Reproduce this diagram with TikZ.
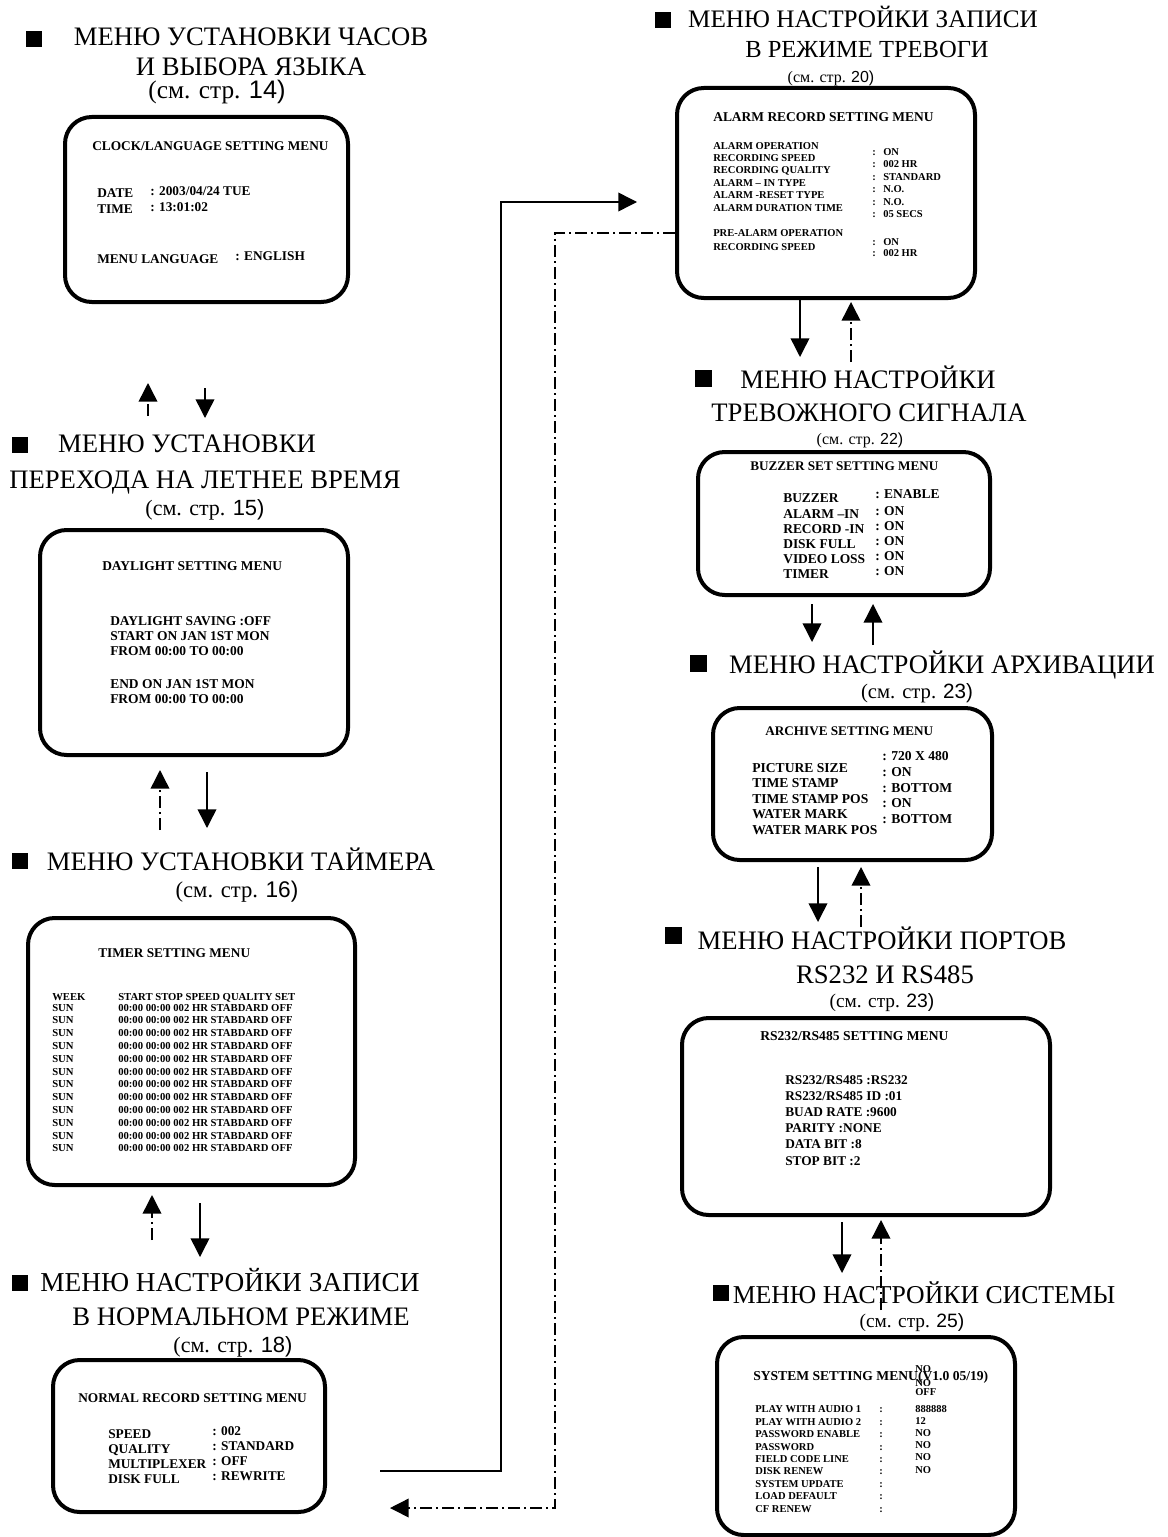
\documentclass[tikz,border=0pt]{standalone}
\usepackage{fontspec}
\setmainfont{Liberation Serif}
\setsansfont{Liberation Sans}
\usetikzlibrary{arrows.meta,fit}
\newcommand\bfs[1]{\fontsize{#1}{#1}\selectfont\bfseries}
\newcommand\rms[1]{\fontsize{#1}{#1}\selectfont}
\newcommand\pgref[2]{\fontsize{#1}{#1}\selectfont(см. стр. {\sffamily #2)}}
\begin{document}
\begin{tikzpicture}[x=0.75pt,y=-0.75pt,
  scr/.style={draw,line width=3pt,rounded corners=20pt,inner sep=0pt},
  tl/.style={anchor=base west,inner sep=0pt},
  ttl/.style={anchor=base,inner sep=0pt,font=\fontsize{20}{22}\selectfont},
  pg/.style={anchor=base,inner sep=0pt},
  arr/.style={line width=1.1pt,-{Triangle[length=14pt,width=14pt]}},
  dd/.style={arr,dash pattern=on 9pt off 3pt on 1.5pt off 3pt},
]
\useasboundingbox (0,0) rectangle (1167,1537);

% ---------- boxes ----------
\node[scr,fit={(65,117)(348,302)}] (b1) {};
\node[scr,fit={(40,530)(348,755)}] (b2) {};
\node[scr,fit={(28,918)(355,1185)}] (b3) {};
\node[scr,fit={(53,1360)(325,1512)}] (b4) {};
\node[scr,fit={(677,88)(975,298)}] (b5) {};
\node[scr,fit={(698,452)(990,595)}] (b6) {};
\node[scr,fit={(713,708)(992,860)}] (b7) {};
\node[scr,fit={(682,1018)(1050,1215)}] (b8) {};
\node[scr,fit={(717,1337)(1015,1535)}] (b9) {};

% ---------- titles ----------
\fill (26,31) rectangle (42,47);
\node[ttl] (t1a) at (251,46) {МЕНЮ УСТАНОВКИ ЧАСОВ};
\node[ttl] (t1b) at (251,76) {И ВЫБОРА ЯЗЫКА};
\node[pg] (t1c) at (217,99) {\pgref{19}{14}};

\fill (12,437) rectangle (28,453);
\node[ttl] (t2a) at (187,452) {МЕНЮ УСТАНОВКИ};
\node[ttl] (t2b) at (205,488) {ПЕРЕХОДА НА ЛЕТНЕЕ ВРЕМЯ};
\node[pg] (t2c) at (205,515) {\pgref{16.5}{15}};

\fill (12,853) rectangle (28,869);
\node[ttl] (t3a) at (241,870) {МЕНЮ УСТАНОВКИ ТАЙМЕРА};
\node[pg] (t3c) at (237,897) {\pgref{17}{16}};

\fill (12,1275) rectangle (28,1291);
\node[ttl,font=\rms{20.5}] (t4a) at (230,1291) {МЕНЮ НАСТРОЙКИ ЗАПИСИ};
\node[ttl] (t4b) at (241,1325) {В НОРМАЛЬНОМ РЕЖИМЕ};
\node[pg] (t4c) at (233,1352) {\pgref{16.5}{18}};

\fill (655,12) rectangle (671,28);
\node[ttl,font=\rms{18.9}] (t5a) at (863,28) {МЕНЮ НАСТРОЙКИ ЗАПИСИ};
\node[ttl,font=\rms{18.4}] (t5b) at (867,58) {В РЕЖИМЕ ТРЕВОГИ};
\node[pg] (t5c) at (831,83) {\pgref{12}{20}};

\fill (695,370) rectangle (712,387);
\node[ttl] (t6a) at (868,388) {МЕНЮ НАСТРОЙКИ};
\node[ttl] (t6b) at (869,421) {ТРЕВОЖНОГО СИГНАЛА};
\node[pg] (t6c) at (860,444) {\pgref{12}{22}};

\fill (690,655) rectangle (707,672);
\node[ttl] (t7a) at (942,673) {МЕНЮ НАСТРОЙКИ АРХИВАЦИИ};
\node[pg] (t7c) at (917,698) {\pgref{15.5}{23}};

\fill (665,927) rectangle (682,944);
\node[ttl] (t8a) at (882,949) {МЕНЮ НАСТРОЙКИ ПОРТОВ};
\node[ttl] (t8b) at (885,983) {RS232 И RS485};
\node[pg] (t8c) at (882,1007) {\pgref{14.5}{23}};

\fill (713,1285) rectangle (729,1301);
\node[ttl,font=\rms{19.3}] (t9a) at (924,1303) {МЕНЮ НАСТРОЙКИ СИСТЕМЫ};
\node[pg] (t9c) at (912,1327) {\pgref{14.5}{25}};

% ---------- box 1 ----------
\begin{scope}[every node/.style={tl,font=\bfs{10}}]
\node (c1) at (92,151) {CLOCK/LANGUAGE SETTING MENU};
\node (c2) at (97,198) {DATE};
\node (c3) at (150,196) {: 2003/04/24 TUE};
\node (c4) at (97,214) {TIME};
\node (c5) at (150,212) {: 13:01:02};
\node (c6) at (97,263) {MENU LANGUAGE};
\node (c7) at (235,261) {: ENGLISH};
\end{scope}

% ---------- box 2 ----------
\begin{scope}[every node/.style={tl,font=\bfs{10.1}}]
\node (d1) at (102,570) {DAYLIGHT SETTING MENU};
\node (d2) at (110,625) {DAYLIGHT SAVING :OFF};
\node (d3) at (110,640) {START ON JAN 1ST MON};
\node (d4) at (110,655) {FROM 00:00 TO 00:00};
\node (d5) at (110,688) {END ON JAN 1ST MON};
\node (d6) at (110,703) {FROM 00:00 TO 00:00};
\end{scope}

% ---------- box 3 ----------
\node[tl,font=\bfs{10}] (e1) at (98,957) {TIMER SETTING MENU};
\begin{scope}[every node/.style={tl,font=\bfs{8}}]
\node (e2) at (52,1000) {WEEK};
\node (e3) at (118,1000) {START STOP SPEED QUALITY SET};
\foreach \i in {0,...,11}{
  \node (es\i) at (52,1011+12.8*\i) {SUN};
  \node (er\i) at (118,1011+12.8*\i) {00:00 00:00 002 HR STABDARD OFF};
}
\end{scope}

% ---------- box 4 ----------
\begin{scope}[every node/.style={tl,font=\bfs{10}}]
\node (f1) at (78,1402) {NORMAL RECORD SETTING MENU};
\node (f2) at (108,1438) {SPEED};
\node (f3) at (108,1453) {QUALITY};
\node (f4) at (108,1468) {MULTIPLEXER};
\node (f5) at (108,1483) {DISK FULL};
\node (f6) at (212,1435) {: 002};
\node (f7) at (212,1450) {: STANDARD};
\node (f8) at (212,1465) {: OFF};
\node (f9) at (212,1480) {: REWRITE};
\end{scope}

% ---------- box 5 ----------
\node[tl,font=\bfs{10.1}] (g0) at (713,122) {ALARM RECORD SETTING MENU};
\begin{scope}[every node/.style={tl,font=\bfs{7.9}}]
\node (g1) at (713,150) {ALARM OPERATION};
\node (g2) at (713,162) {RECORDING SPEED};
\node (g3) at (713,174) {RECORDING QUALITY};
\node (g4) at (713,187) {ALARM – IN TYPE};
\node (g5) at (713,199) {ALARM -RESET TYPE};
\node (g6) at (713,212) {ALARM DURATION TIME};
\node (g7) at (713,237) {PRE-ALARM OPERATION};
\node (g8) at (713,250) {RECORDING SPEED};
\foreach \v/\y [count=\k] in {ON/156,002 HR/168,STANDARD/181,N.O./193,N.O./206,05 SECS/218,ON/245,002 HR/257}{
  \node (gc\k) at (872,\y) {:};
  \node (gv\k) at (883,\y) {\v};
}
\end{scope}

% ---------- box 6 ----------
\node[tl,font=\bfs{9.9}] (h0) at (750,470) {BUZZER SET SETTING MENU};
\begin{scope}[every node/.style={tl,font=\bfs{10.1}}]
\node (h1) at (783,502) {BUZZER};
\node (h2) at (783,518) {ALARM –IN};
\node (h3) at (783,533) {RECORD -IN};
\node (h4) at (783,548) {DISK FULL};
\node (h5) at (783,563) {VIDEO LOSS};
\node (h6) at (783,578) {TIMER};
\node (hv1) at (875,498) {: ENABLE};
\foreach \y [count=\k] in {515,530,545,560,575}{
  \node (hv\k x) at (875,\y) {: ON};
}
\end{scope}

% ---------- box 7 ----------
\node[tl,font=\bfs{9.9}] (i0) at (765,735) {ARCHIVE SETTING MENU};
\begin{scope}[every node/.style={tl,font=\bfs{10.2}}]
\node (i1) at (752,772) {PICTURE SIZE};
\node (i2) at (752,787) {TIME STAMP};
\node (i3) at (752,803) {TIME STAMP POS};
\node (i4) at (752,818) {WATER MARK};
\node (i5) at (752,834) {WATER MARK POS};
\node (iv1) at (882,760) {: 720 X 480};
\node (iv2) at (882,776) {: ON};
\node (iv3) at (882,792) {: BOTTOM};
\node (iv4) at (882,807) {: ON};
\node (iv5) at (882,823) {: BOTTOM};
\end{scope}

% ---------- box 8 ----------
\node[tl,font=\bfs{10.2}] (j0) at (760,1040) {RS232/RS485 SETTING MENU};
\begin{scope}[every node/.style={tl,font=\bfs{10}}]
\node (j1) at (785,1084) {RS232/RS485 :RS232};
\node (j2) at (785,1100) {RS232/RS485 ID :01};
\node (j3) at (785,1116) {BUAD RATE :9600};
\node (j4) at (785,1132) {PARITY :NONE};
\node (j5) at (785,1148) {DATA BIT :8};
\node (j6) at (785,1165) {STOP BIT :2};
\end{scope}

% ---------- box 9 ----------
\node[tl,font=\bfs{10.2}] (k0) at (753,1380) {SYSTEM SETTING MENU(V1.0 05/19)};
\begin{scope}[every node/.style={tl,font=\bfs{7.9}}]
\node (kn1) at (915,1372) {NO};
\node (kn2) at (915,1386) {NO};
\foreach \v/\y [count=\k] in {OFF/1395,888888/1412,12/1424,NO/1436,NO/1448,NO/1460,NO/1473}{
  \node (kv\k) at (915,\y) {\v};
}
\foreach \l/\y [count=\k] in {PLAY WITH AUDIO 1/1412,PLAY WITH AUDIO 2/1425,PASSWORD ENABLE/1437,PASSWORD/1450,FIELD CODE LINE/1462,DISK RENEW/1474,SYSTEM UPDATE/1487,LOAD DEFAULT/1499,CF RENEW/1512}{
  \node (kl\k) at (755,\y) {\l};
  \node (kc\k) at (879,\y) {:};
}
\end{scope}

% ---------- short arrows ----------
\coordinate (a1u0) at (148,416); \coordinate (a1u1) at (148,383);
\coordinate (a1d0) at (205,388); \coordinate (a1d1) at (205,418);
\draw[dd] (a1u0) -- (a1u1);
\draw[arr] (a1d0) -- (a1d1);

\coordinate (a2u0) at (160,830); \coordinate (a2u1) at (160,770);
\coordinate (a2d0) at (207,772); \coordinate (a2d1) at (207,828);
\draw[dd] (a2u0) -- (a2u1);
\draw[arr] (a2d0) -- (a2d1);

\coordinate (a3u0) at (152,1240); \coordinate (a3u1) at (152,1195);
\coordinate (a3d0) at (200,1203); \coordinate (a3d1) at (200,1257);
\draw[dd] (a3u0) -- (a3u1);
\draw[arr] (a3d0) -- (a3d1);

\coordinate (a5d0) at (800,298); \coordinate (a5d1) at (800,357);
\coordinate (a5u0) at (851,362); \coordinate (a5u1) at (851,302);
\draw[arr] (a5d0) -- (a5d1);
\draw[dd] (a5u0) -- (a5u1);

\coordinate (a6d0) at (812,604); \coordinate (a6d1) at (812,642);
\coordinate (a6u0) at (873,645); \coordinate (a6u1) at (873,604);
\draw[arr] (a6d0) -- (a6d1);
\draw[arr] (a6u0) -- (a6u1);

\coordinate (a7d0) at (818,867); \coordinate (a7d1) at (818,922);
\coordinate (a7u0) at (861,927); \coordinate (a7u1) at (861,867);
\draw[arr] (a7d0) -- (a7d1);
\draw[dd] (a7u0) -- (a7u1);

\coordinate (a8d0) at (842,1222); \coordinate (a8d1) at (842,1273);
\coordinate (a8u0) at (881,1310); \coordinate (a8u1) at (881,1220);
\draw[arr] (a8d0) -- (a8d1);
\draw[dd] (a8u0) -- (a8u1);

% ---------- long connectors ----------
\coordinate (s0) at (380,1471);
\coordinate (s1) at (637,202);
\draw[arr] (s0) -- (501,1471) -- (501,202) -- (s1);
\coordinate (q0) at (675,233);
\coordinate (q1) at (390,1508);
\draw[dd] (q0) -- (555,233) -- (555,1508) -- (q1);
\end{tikzpicture}
\end{document}
